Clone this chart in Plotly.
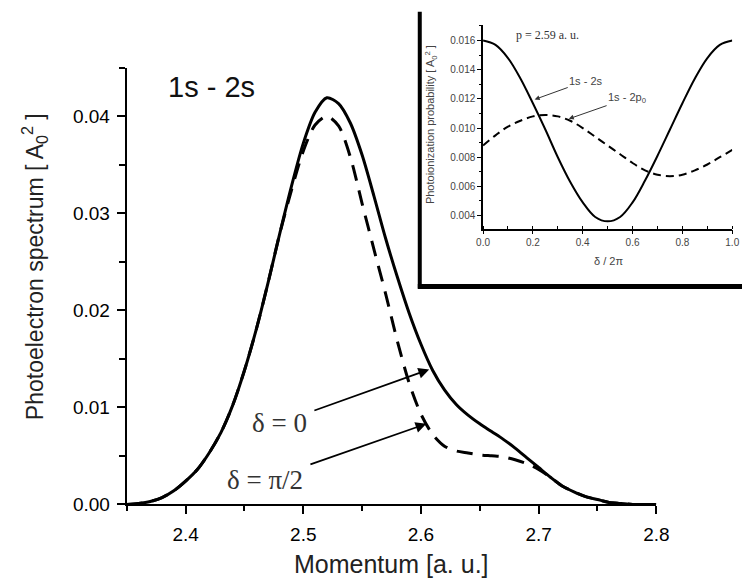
import plotly.graph_objects as go

# ---------------- data ----------------
momentum = [2.35, 2.36, 2.37, 2.38, 2.39, 2.40, 2.41, 2.42, 2.43, 2.44, 2.45, 2.46, 2.47,
            2.48, 2.49, 2.50, 2.51, 2.52, 2.53, 2.54, 2.55, 2.56, 2.57, 2.58, 2.59, 2.60,
            2.61, 2.62, 2.63, 2.64, 2.65, 2.66, 2.67, 2.68, 2.69, 2.70, 2.71, 2.72, 2.73,
            2.74, 2.75, 2.76, 2.77, 2.78, 2.80]
spectrum_delta0 = [0.0000, 0.0001, 0.0003, 0.0007, 0.0014, 0.0024, 0.0036, 0.0053, 0.0074,
                   0.0102, 0.0138, 0.0180, 0.0228, 0.0279, 0.0328, 0.0372, 0.0404, 0.0419,
                   0.0413, 0.0393, 0.0360, 0.0318, 0.0274, 0.0234, 0.0197, 0.0165, 0.0138,
                   0.0118, 0.0103, 0.0092, 0.0083, 0.0075, 0.0067, 0.0058, 0.0048, 0.0038,
                   0.0028, 0.0019, 0.0013, 0.0008, 0.0005, 0.0002, 0.0001, 0.0000, 0.0000]
spectrum_delta_pi2 = [0.0000, 0.0001, 0.0003, 0.0007, 0.0014, 0.0024, 0.0036, 0.0053, 0.0074,
                      0.0102, 0.0138, 0.0180, 0.0228, 0.0279, 0.0324, 0.0364, 0.0391, 0.0400,
                      0.0390, 0.0358, 0.0310, 0.0263, 0.0217, 0.0168, 0.0125, 0.0093, 0.0072,
                      0.0060, 0.0055, 0.0053, 0.0051, 0.0050, 0.0049, 0.0046, 0.0042, 0.0036,
                      0.0028, 0.0019, 0.0013, 0.0008, 0.0005, 0.0002, 0.0001, 0.0000, 0.0000]

phase = [0.00, 0.05, 0.10, 0.15, 0.20, 0.25, 0.30, 0.35, 0.40, 0.45, 0.50,
         0.55, 0.60, 0.65, 0.70, 0.75, 0.80, 0.85, 0.90, 0.95, 1.00]
prob_1s2s = [0.0160, 0.0157, 0.0148, 0.0134, 0.0117, 0.0099, 0.0080, 0.0063, 0.0049, 0.0039,
             0.0036, 0.0039, 0.0049, 0.0064, 0.0081, 0.0099, 0.0117, 0.0134, 0.0148, 0.0157,
             0.0160]
prob_1s2p0 = [0.0088, 0.0095, 0.0101, 0.0105, 0.0108, 0.0109, 0.0108, 0.0105, 0.0100, 0.0094,
              0.0088, 0.0082, 0.0076, 0.0071, 0.0068, 0.0067, 0.0068, 0.0071, 0.0075, 0.0080,
              0.0085]

SANS = "Liberation Sans, Arial, sans-serif"
SERIF = "Liberation Serif, Times New Roman, serif"

fig = go.Figure()

# main curves
fig.add_trace(go.Scatter(x=momentum, y=spectrum_delta0, mode="lines",
                         line=dict(color="black", width=3, shape="spline", smoothing=0.8),
                         showlegend=False, xaxis="x", yaxis="y"))
fig.add_trace(go.Scatter(x=momentum, y=spectrum_delta_pi2, mode="lines",
                         line=dict(color="black", width=3, dash="16px,10px", shape="spline", smoothing=0.8),
                         showlegend=False, xaxis="x", yaxis="y"))

# inset curves
fig.add_trace(go.Scatter(x=phase, y=prob_1s2s, mode="lines",
                         line=dict(color="black", width=2, shape="spline"),
                         showlegend=False, xaxis="x2", yaxis="y2"))
fig.add_trace(go.Scatter(x=phase, y=prob_1s2p0, mode="lines",
                         line=dict(color="black", width=2, dash="8px,5px", shape="spline"),
                         showlegend=False, xaxis="x2", yaxis="y2"))

W, H = 755, 588
def px(x):
    return x / W
def py(y):
    return 1 - y / H

fig.update_layout(
    width=W, height=H,
    margin=dict(l=0, r=0, t=0, b=0),
    paper_bgcolor="white", plot_bgcolor="white",
    font=dict(family=SANS, color="black"),
    xaxis=dict(domain=[px(123), px(667)], range=[2.35, 2.8], dtick=0.1, tick0=2.4,
               showgrid=False, zeroline=False, showline=True, linecolor="black", linewidth=2,
               ticks="outside", ticklen=8, tickwidth=2, tickcolor="black",
               tickfont=dict(size=19, family=SANS), ticklabelstandoff=4,
               minor=dict(dtick=0.05, tick0=2.35, ticks="outside", ticklen=5, tickwidth=1.5,
                          tickcolor="black", showgrid=False),
               anchor="y"),
    yaxis=dict(domain=[py(514), py(69)], range=[0, 0.045], dtick=0.01, tickformat=".2f",
               showgrid=False, zeroline=False, showline=True, linecolor="black", linewidth=2,
               ticks="outside", ticklen=8, tickwidth=2, tickcolor="black",
               tickfont=dict(size=19, family=SANS), ticklabelstandoff=3,
               minor=dict(dtick=0.005, ticks="outside", ticklen=6, tickwidth=1.5,
                          tickcolor="black", showgrid=False),
               anchor="x"),
    xaxis2=dict(domain=[px(489), px(745)], range=[0, 1], dtick=0.2, tickformat=".1f",
                showgrid=False, zeroline=False, showline=True, linecolor="black", linewidth=1.5,
                ticks="outside", ticklen=4, tickwidth=1, tickcolor="black",
                tickfont=dict(size=10, family=SANS, color="#444"),
                minor=dict(dtick=0.1, ticks="inside", ticklen=3, tickwidth=1, tickcolor="black"),
                anchor="y2"),
    yaxis2=dict(domain=[py(233), py(25)], range=[0.0031, 0.0171], dtick=0.002, tick0=0.004,
                tickformat=".3f",
                showgrid=False, zeroline=False, showline=True, linecolor="black", linewidth=1.5,
                ticks="outside", ticklen=4, tickwidth=1, tickcolor="black",
                tickfont=dict(size=10, family=SANS, color="#444"),
                minor=dict(dtick=0.001, ticks="outside", ticklen=2, tickwidth=1, tickcolor="black"),
                anchor="x2"),
)

# inset frame (thick left and bottom edges)
fig.add_shape(type="line", xref="paper", yref="paper", x0=px(424), x1=px(424), y0=py(12), y1=py(294),
              line=dict(color="black", width=4))
fig.add_shape(type="line", xref="paper", yref="paper", x0=px(422), x1=1.0, y0=py(292), y1=py(292),
              line=dict(color="black", width=5))

ann = []
# axis titles
ann.append(dict(text="Momentum [a. u.]", xref="paper", yref="paper", x=px(395), y=py(575),
                showarrow=False, font=dict(size=25, family=SANS, color="#222"),
                xanchor="center", yanchor="middle"))
ann.append(dict(text="Photoelectron spectrum [ A<sub>0</sub><sup>2</sup> ]", xref="paper", yref="paper",
                x=px(28), y=py(272), textangle=-90, showarrow=False,
                font=dict(size=23, family=SANS, color="#222"), xanchor="center", yanchor="middle"))
# panel label
ann.append(dict(text="1s - 2s", xref="paper", yref="paper", x=px(210), y=py(89), showarrow=False,
                font=dict(size=29, family=SANS, color="#111"), xanchor="center", yanchor="middle"))
# delta labels with arrows (text sits at the arrow tail)
ann.append(dict(text="\u03b4 = 0", x=2.607, y=0.0139, xref="x", yref="y",
                ax=2.480, ay=0.0084, axref="x", ayref="y",
                showarrow=True, arrowhead=2, arrowsize=1.2, arrowwidth=1.8, arrowcolor="black",
                startstandoff=6, xanchor="center", yanchor="middle",
                font=dict(size=27, family=SERIF, color="#333")))
ann.append(dict(text="\u03b4 = \u03c0/2", x=2.6046, y=0.0083, xref="x", yref="y",
                ax=2.4677, ay=0.0025, axref="x", ayref="y",
                showarrow=True, arrowhead=2, arrowsize=1.2, arrowwidth=1.8, arrowcolor="black",
                startstandoff=6, xanchor="center", yanchor="middle",
                font=dict(size=27, family=SERIF, color="#333")))

# inset titles and labels
ann.append(dict(text="\u03b4 / 2\u03c0", xref="paper", yref="paper", x=px(618), y=py(266),
                showarrow=False, font=dict(size=11, family=SANS, color="#444"),
                xanchor="center", yanchor="middle"))
ann.append(dict(text="Photoionization probability [ A<sub>0</sub><sup>2</sup> ]", xref="paper", yref="paper",
                x=px(435), y=py(127), textangle=-90, showarrow=False,
                font=dict(size=11, family=SANS, color="#444"), xanchor="center", yanchor="middle"))
ann.append(dict(text="p = 2.59 a. u.", x=0.258, y=0.0164, xref="x2", yref="y2", showarrow=False,
                font=dict(size=12, family=SERIF, color="#333"), xanchor="center", yanchor="middle"))
ann.append(dict(text="1s - 2s", x=0.207, y=0.01196, xref="x2", yref="y2",
                ax=0.414, ay=0.01324, axref="x2", ayref="y2",
                showarrow=True, arrowhead=2, arrowsize=1, arrowwidth=1, arrowcolor="#333",
                xanchor="center", yanchor="middle",
                font=dict(size=11, family=SANS, color="#444")))
ann.append(dict(text="1s - 2p<sub>0</sub>", x=0.344, y=0.01063, xref="x2", yref="y2",
                ax=0.578, ay=0.01203, axref="x2", ayref="y2",
                showarrow=True, arrowhead=2, arrowsize=1, arrowwidth=1, arrowcolor="#333",
                xanchor="center", yanchor="middle",
                font=dict(size=11, family=SANS, color="#444")))

fig.update_layout(annotations=ann)

fig.write_html("out.html")
